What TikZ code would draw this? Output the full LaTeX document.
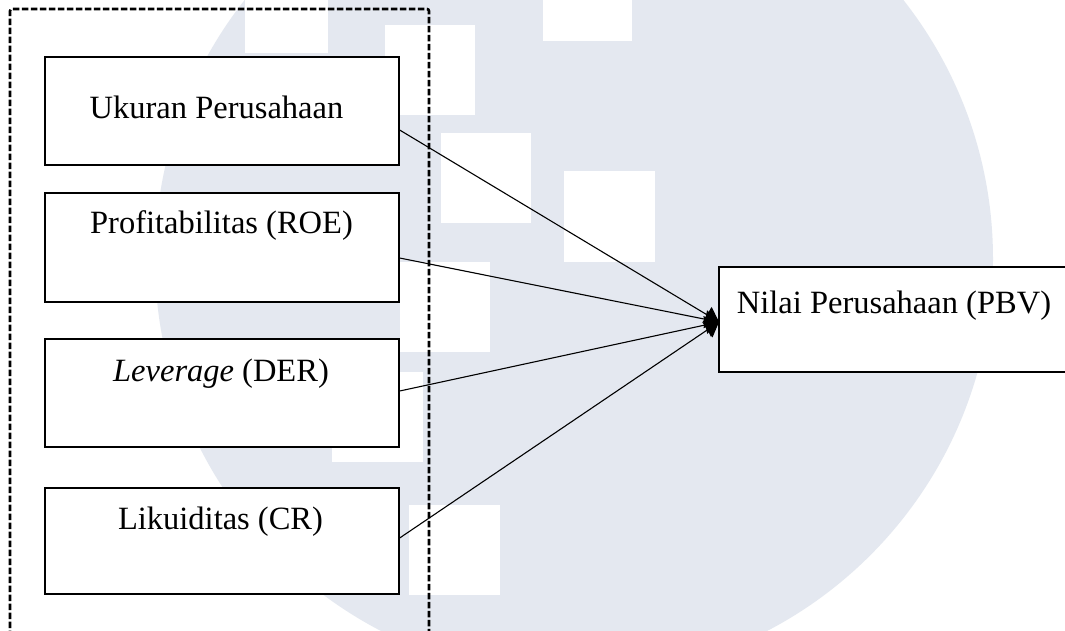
\documentclass[tikz,border=0pt]{standalone}
\usepackage{fontspec}
\setmainfont{Liberation Serif}
\usetikzlibrary{arrows.meta}
\definecolor{wm}{RGB}{228,232,240}
\begin{document}
\begin{tikzpicture}[x=1pt,y=-1pt,
  box/.style={draw=black,line width=1.3pt,fill=white,rectangle,inner sep=0pt,minimum width=354pt},
  lbl/.style={anchor=base,inner sep=0pt,font=\fontsize{32.5}{39}\selectfont},
  conn/.style={line width=1.1pt,-{Triangle[length=14pt,width=18pt]}},
  frame/.style={line width=2.6pt,dash pattern=on 6.5pt off 2.5pt,rounded corners=2pt},
  sq/.style={fill=white,draw=none}]
\clip (0,0) rectangle (1065,630);
\fill[white] (0,0) rectangle (1065,630);
% watermark
\fill[wm] (574,259) circle[radius=419pt];
\fill[sq] (245,-10) rectangle (328,53);
\fill[sq] (385,25) rectangle (475,115);
\fill[sq] (543,-10) rectangle (632,41);
\fill[sq] (441,133) rectangle (531,223);
\fill[sq] (564,171) rectangle (655,262);
\fill[sq] (400,262) rectangle (490,352);
\fill[sq] (332,372) rectangle (423,462);
\fill[sq] (409,505) rectangle (500,595);
% dashed frame
\draw[frame] (10,700) -- (10,9) -- (429,9) -- (429,700);
% boxes
\node[box,minimum height=108pt] (b1) at (222,111) {};
\node[lbl] (t1) at (216.5,118) {Ukuran Perusahaan};
\node[box,minimum height=109pt] (b2) at (222,247.5) {};
\node[lbl] (t2) at (221.5,233) {Profitabilitas (ROE)};
\node[box,minimum height=108pt] (b3) at (222,393) {};
\node[lbl] (t3) at (221,381) {\textit{Leverage} (DER)};
\node[box,minimum height=106pt] (b4) at (222,541) {};
\node[lbl] (t4) at (220.5,529) {Likuiditas (CR)};
\node[box,minimum width=360pt,minimum height=105pt] (n) at (899,319.5) {};
\node[lbl] (tn) at (894,313) {Nilai Perusahaan (PBV)};
% connectors
\coordinate (tip) at (719,322);
\draw[conn] ([yshift=-19pt]b1.east) -- (tip);
\draw[conn] ([yshift=-10.5pt]b2.east) -- (tip);
\draw[conn] ([yshift=2pt]b3.east) -- (tip);
\draw[conn] ([yshift=3pt]b4.east) -- (tip);
% merged arrowheads
\fill (704,322) -- (711,308) -- (tip) -- (711,337) -- cycle;
\end{tikzpicture}
\end{document}
